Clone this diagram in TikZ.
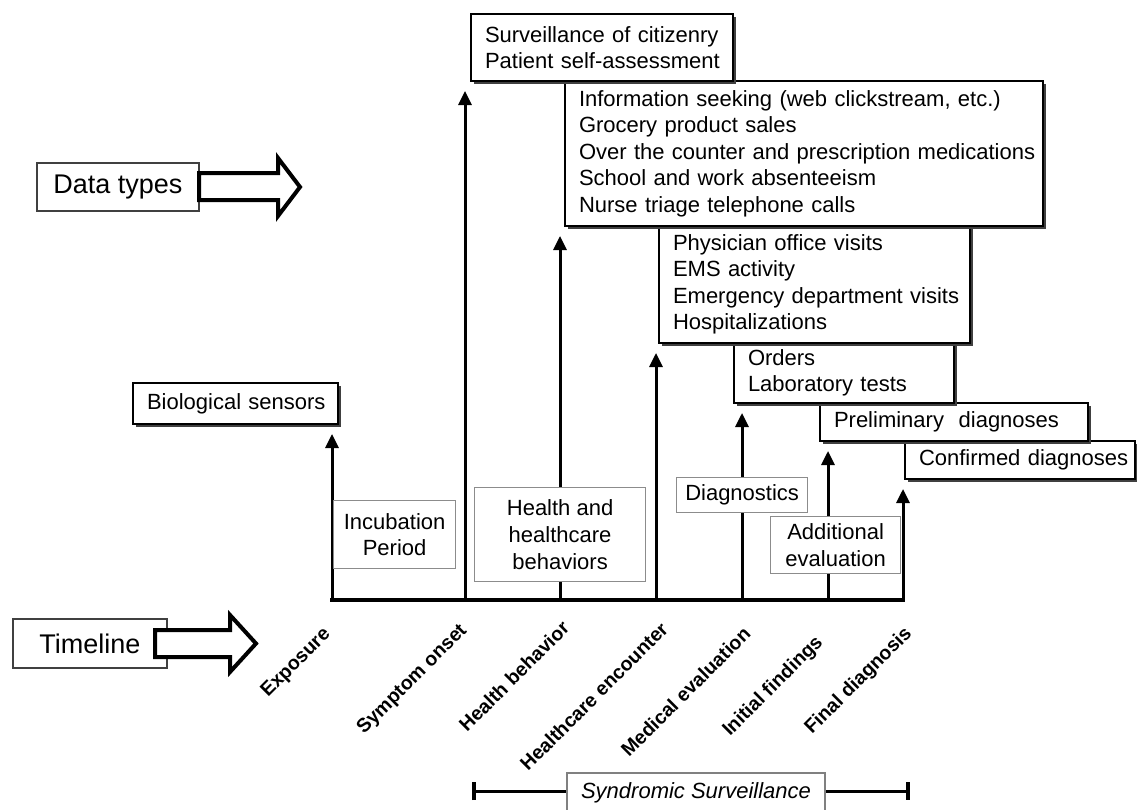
\documentclass[tikz,border=0pt]{standalone}
\usepackage{fontspec}
\setmainfont{Liberation Sans}
\usetikzlibrary{arrows.meta,shadows}
\begin{document}
\begin{tikzpicture}[x=1pt,y=-1pt,
  dbox/.style={draw, line width=2pt, fill=white,
    drop shadow={shadow xshift=3pt, shadow yshift=-3pt, opacity=1, fill=black!75},
    inner xsep=14pt, inner ysep=0pt, anchor=north west, align=left,
    font=\fontsize{22}{26.5}\selectfont},
  gbox/.style={draw=black!45, line width=1.2pt, fill=white, align=center,
    inner sep=0pt, anchor=north west, font=\fontsize{22}{26}\selectfont},
  lbox/.style={draw=black!75, line width=1.5pt, fill=white, inner sep=0pt,
    font=\fontsize{27}{30}\selectfont},
  sbox/.style={draw=black!50, line width=1.2pt, fill=white, inner sep=0pt,
    font=\fontsize{22}{26}\selectfont\itshape},
  barrow/.style={draw, line width=4pt, fill=white, line join=miter},
  varr/.style={line width=3pt, -{Triangle[width=13pt,length=14pt]}, shorten >=9pt},
  tlab/.style={rotate=45, anchor=base west, inner sep=0pt,
    font=\fontsize{19.5}{20}\selectfont\bfseries}
]
\path[use as bounding box] (0,0) rectangle (1137,809);
\clip (0,0) rectangle (1137,809);

% timeline points
\coordinate (tExp) at (332,600);
\coordinate (tSym) at (465,600);
\coordinate (tHb)  at (560,600);
\coordinate (tHe)  at (656,600);
\coordinate (tMe)  at (742,600);
\coordinate (tIf)  at (828,600);
\coordinate (tFd)  at (903,600);

% data type boxes (lower ones first)
\node[dbox, text width=202pt, minimum height=38pt] (conf) at (904,440)
  {\mbox{Confirmed diagnoses}};
\node[dbox, text width=240pt, minimum height=38pt] (prel) at (819,402)
  {\mbox{Preliminary~ diagnoses}};
\node[dbox, text width=192pt, minimum height=60pt] (ord) at (733,342)
  {\mbox{Orders}\\\mbox{Laboratory tests}};
\node[dbox, text width=283pt, minimum height=117pt] (phys) at (658,225)
  {\mbox{Physician office visits}\\\mbox{EMS activity}\\\mbox{Emergency department visits}\\\mbox{Hospitalizations}};
\node[dbox, text width=450pt, minimum height=145pt] (info) at (564,80)
  {\mbox{Information seeking (web clickstream, etc.)}\\\mbox{Grocery product sales}\\\mbox{Over the counter and prescription medications}\\\mbox{School and work absenteeism}\\\mbox{Nurse triage telephone calls}};
\node[dbox, text width=234pt, minimum height=67pt] (surv) at (470,13)
  {\mbox{Surveillance of citizenry}\\\mbox{Patient self-assessment}};
\node[dbox, align=center, text width=177pt, minimum height=41pt] (bio) at (132,382)
  {\mbox{Biological sensors}};

% vertical arrows
\draw[varr] (tExp) -- (tExp |- bio.south);
\draw[varr] (tSym) -- (tSym |- surv.south);
\draw[varr] (tHb)  -- (tHb |- info.south);
\draw[varr] (tHe)  -- (tHe |- phys.south);
\draw[varr] (tMe)  -- (tMe |- ord.south);
\draw[varr] (tIf)  -- (tIf |- prel.south);
\draw[varr] (tFd)  -- (tFd |- conf.south);

% baseline
\draw[line width=4pt, line cap=rect] (tExp) -- (tFd);

% phase boxes
\node[gbox, minimum width=122pt, minimum height=68pt] (inc) at (333,500) {Incubation\\Period};
\node[gbox, minimum width=171pt, minimum height=94pt, font=\fontsize{22}{27}\selectfont] (hhb) at (474,487) {Health and\\healthcare\\behaviors};
\node[gbox, minimum width=131pt, minimum height=35pt] (diag) at (676,477) {Diagnostics};
\node[gbox, minimum width=130pt, minimum height=57pt, font=\fontsize{22}{27}\selectfont] (addl) at (770,516) {Additional\\evaluation};

% left labels with block arrows
\node[lbox, minimum width=162pt, minimum height=48pt] (dt) at (118,187) {Data types};
\draw[barrow] (199,173) -- (278,173) -- (278,158) -- (300,187) -- (278,216) -- (278,200) -- (199,200) -- cycle;
\node[lbox, minimum width=154pt, minimum height=49pt] (tl) at (90,643.5) {Timeline};
\draw[barrow] (155,630) -- (230,630) -- (230,615) -- (256,643.5) -- (230,672) -- (230,657) -- (155,657) -- cycle;

% timeline labels
\node[tlab] (lExp) at (268,698) {Exposure};
\node[tlab] (lSym) at (364,735) {Symptom onset};
\node[tlab] (lHb)  at (467,733) {Health behavior};
\node[tlab] (lHe)  at (528,772) {Healthcare encounter};
\node[tlab] (lMe)  at (629,758) {Medical evaluation};
\node[tlab] (lIf)  at (730,737) {Initial findings};
\node[tlab] (lFd)  at (812,735) {Final diagnosis};

% syndromic surveillance span
\coordinate (sL) at (472,791);
\coordinate (sR) at (910,791);
\draw[line width=3pt, {Bar[width=18pt,line width=4pt]}-{Bar[width=18pt,line width=4pt]}] (sL) -- (sR);
\node[sbox, minimum width=258pt, minimum height=40pt] (syn) at (696,793) {Syndromic Surveillance};
\end{tikzpicture}
\end{document}
